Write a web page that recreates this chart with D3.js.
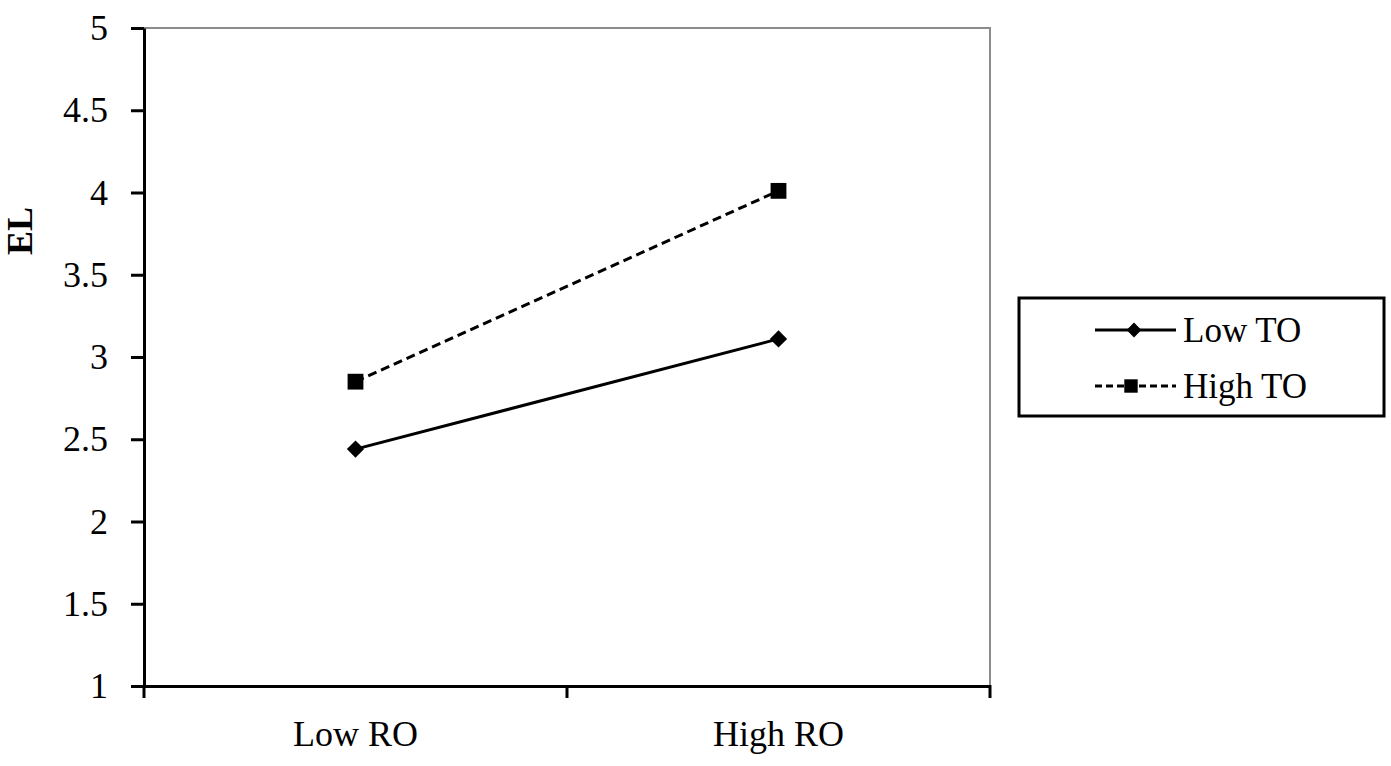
<!DOCTYPE html>
<html>
<head>
<meta charset="utf-8">
<script src="https://cdn.jsdelivr.net/npm/d3@7"></script>
<style>
  body { margin: 0; background: #fff; }
  svg { display: block; }
  text { font-family: "Liberation Serif", "Times New Roman", serif; fill: #000; }
</style>
</head>
<body>
<div id="chartArea"></div>
<script>
// data
const categories = ["Low RO", "High RO"];
const seriesNames = ["Low TO", "High TO"];
const lowTO = [2.44, 3.11];
const highTO = [2.85, 4.01];
const yTicks = [1, 1.5, 2, 2.5, 3, 3.5, 4, 4.5, 5];
const yTickLabels = ["1", "1.5", "2", "2.5", "3", "3.5", "4", "4.5", "5"];

const W = 1391, H = 766;
// plot area edges
const plotL = 144, plotR = 990, plotT = 28, plotB = 686;

const svg = d3.select("#chartArea").append("svg")
  .attr("width", W)
  .attr("height", H);

const x = d3.scaleBand().domain(categories).range([plotL, plotR]).padding(0);
const y = d3.scaleLinear().domain([1, 5]).range([plotB, plotT]);

// grey top + right border of plot area
svg.append("path")
  .attr("d", `M${plotL},${plotT}H${plotR}V${plotB}`)
  .attr("fill", "none")
  .attr("stroke", "#8c8c8c")
  .attr("stroke-width", 2);

// y axis
const yAxis = svg.append("g")
  .attr("transform", `translate(${plotL},0)`)
  .call(d3.axisLeft(y).tickValues(yTicks)
    .tickFormat((d, i) => yTickLabels[i])
    .tickSize(13).tickSizeOuter(0).tickPadding(23));
yAxis.select(".domain").attr("stroke", "#000").attr("stroke-width", 3);
yAxis.selectAll(".tick line").attr("stroke", "#000").attr("stroke-width", 3);
yAxis.selectAll(".tick text")
  .attr("font-size", 36)
  .attr("font-family", "Liberation Serif, serif")
  .attr("fill", "#000");

// x axis, ticks at the band edges
const xAxis = svg.append("g")
  .attr("transform", `translate(0,${plotB})`)
  .call(d3.axisBottom(x).tickSize(0).tickSizeOuter(0).tickPadding(34));
xAxis.select(".domain").attr("stroke", "#000").attr("stroke-width", 3);
xAxis.selectAll(".tick text")
  .attr("font-size", 36)
  .attr("font-family", "Liberation Serif, serif")
  .attr("fill", "#000");
const edges = categories.map(c => x(c)).concat([x(categories[categories.length - 1]) + x.bandwidth()]);
xAxis.selectAll("line.edge")
  .data(edges)
  .enter().append("line")
  .attr("class", "edge")
  .attr("x1", d => d).attr("x2", d => d)
  .attr("y1", -1).attr("y2", 12)
  .attr("stroke", "#000")
  .attr("stroke-width", 3);

// y axis title
svg.append("text")
  .attr("transform", "translate(32,231) rotate(-90)")
  .attr("text-anchor", "middle")
  .attr("font-size", 36)
  .attr("font-weight", "bold")
  .text("EL");

const cx = d => x(d) + x.bandwidth() / 2;
const line = d3.line().x(d => cx(d.c)).y(d => y(d.v));

const series = [
  { name: seriesNames[0], values: lowTO, dash: null, shape: d3.symbolDiamond2 },
  { name: seriesNames[1], values: highTO, dash: "9,5", shape: d3.symbolSquare }
];

series.forEach(s => {
  const pts = categories.map((c, i) => ({ c: c, v: s.values[i] }));
  svg.append("path")
    .datum(pts)
    .attr("d", line)
    .attr("fill", "none")
    .attr("stroke", "#000")
    .attr("stroke-width", 3)
    .attr("stroke-dasharray", s.dash);
  svg.selectAll(null)
    .data(pts)
    .enter().append("path")
    .attr("transform", d => `translate(${cx(d.c)},${y(d.v)})`)
    .attr("d", d3.symbol().type(s.shape).size(s.shape === d3.symbolSquare ? 250 : 190))
    .attr("fill", "#000");
});

// legend
const lg = svg.append("g");
lg.append("rect")
  .attr("x", 1019).attr("y", 298)
  .attr("width", 365).attr("height", 118)
  .attr("fill", "#fff")
  .attr("stroke", "#000")
  .attr("stroke-width", 3);

series.forEach((s, i) => {
  const ly = 330 + i * 56;
  lg.append("line")
    .attr("x1", 1095).attr("x2", 1176)
    .attr("y1", ly).attr("y2", ly)
    .attr("stroke", "#000")
    .attr("stroke-width", 3)
    .attr("stroke-dasharray", s.dash ? "7,4" : null);
  lg.append("path")
    .attr("transform", `translate(${i === 0 ? 1134 : 1131},${ly})`)
    .attr("d", d3.symbol().type(s.shape).size(s.shape === d3.symbolSquare ? 180 : 140))
    .attr("fill", "#000");
  lg.append("text")
    .attr("x", 1183).attr("y", ly)
    .attr("dy", "0.35em")
    .attr("font-size", 35)
    .text(s.name);
});
</script>
</body>
</html>
